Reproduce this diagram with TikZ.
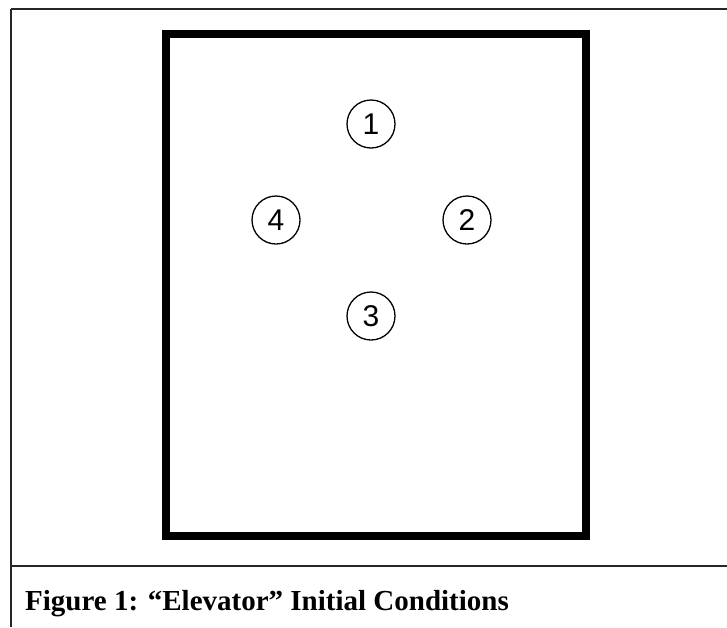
\documentclass[tikz,border=0pt]{standalone}
\usepackage{fontspec}
\setmainfont{Liberation Serif}
\newfontfamily\arialfont{Liberation Sans}
\usetikzlibrary{positioning}
\tikzset{
  frameline/.style={line width=2pt, draw=black!85},
  cage/.style={line width=8pt, draw=black},
  ball/.style={circle, draw=black, line width=1.3pt, minimum size=48pt, inner sep=0pt,
               font=\arialfont\fontsize{30}{30}\selectfont},
  caption/.style={anchor=base west, inner sep=0pt, font=\bfseries\fontsize{29}{29}\selectfont},
}

\begin{document}
\begin{tikzpicture}[x=1pt,y=-1pt]
  \useasboundingbox (0,0) rectangle (727,627);
  % outer frame: top rule, left rule and the rule above the caption
  \draw[frameline] (11,9) -- (727,9);
  \draw[frameline] (11,9) -- (11,627);
  \draw[frameline] (11,566) -- (727,566);
  % the elevator car
  \draw[cage] (166,34) rectangle (586,536);
  % balls, numbered clockwise from the top
  \node[ball] (b1) at (371,124) {1};
  \node[ball] (b2) at (467,220) {2};
  \node[ball] (b3) at (371,316) {3};
  \node[ball] (b4) at (276,220) {4};
  % caption
  \node[caption] (cap) at (25,610) {Figure 1: “Elevator” Initial Conditions};
\end{tikzpicture}
\end{document}
